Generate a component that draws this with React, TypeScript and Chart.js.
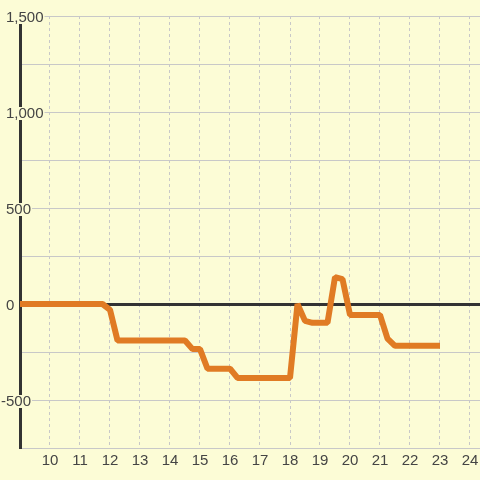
import React, { useEffect, useRef } from "react";
import { Chart, registerables } from "chart.js";

Chart.register(...registerables);

const hours = [9, 11.75, 12, 12.25, 14.5, 14.75, 15, 15.25, 16, 16.25, 18, 18.25, 18.5, 18.75, 19.25, 19.5, 19.75, 20, 21, 21.25, 21.5, 23];
const values = [0, 0, -30, -190, -190, -235, -235, -337, -337, -385, -385, 0, -88, -98, -98, 140, 130, -57, -57, -180, -218, -218];
const xTicks = [10, 11, 12, 13, 14, 15, 16, 17, 18, 19, 20, 21, 22, 23, 24];
const yTicks = [-750, -500, -250, 0, 250, 500, 750, 1000, 1250, 1500];

const BG = "#fcfcd6";
const FONT = "'Liberation Sans', Arial, sans-serif";

const bgPlugin = {
  id: "bgfill",
  beforeDraw(chart: any) {
    const { ctx, width, height } = chart;
    ctx.save();
    ctx.fillStyle = BG;
    ctx.fillRect(0, 0, width, height);
    ctx.restore();
    // fine placement of y labels: minus sign hangs left of the digits, text slightly lower
    const ys = chart.scales.y;
    if (ys && ys.getLabelItems) {
      const items = ys.getLabelItems(chart.chartArea);
      items.forEach((it: any) => {
        if (it._shifted) return;
        const lbl = Array.isArray(it.label) ? it.label[0] : it.label;
        if (typeof lbl === "string" && lbl.startsWith("-")) {
          ctx.save();
          ctx.font = it.font && it.font.string ? it.font.string : `15px ${FONT}`;
          const w = ctx.measureText("-").width;
          ctx.restore();
          it.options.translation[0] -= w;
        }
        it.options.translation[1] += 1.5;
        it._shifted = true;
      });
    }
  },
};

export default function App() {
  const ref = useRef<HTMLCanvasElement | null>(null);
  useEffect(() => {
    if (!ref.current) return;
    const chart = new Chart(ref.current, {
      type: "line",
      data: {
        datasets: [
          {
            data: hours.map((h, i) => ({ x: h, y: values[i] })),
            borderColor: "#e07b24",
            borderWidth: 6,
            borderJoinStyle: "bevel",
            pointRadius: 0,
            tension: 0,
            fill: false,
          },
        ],
      },
      options: {
        responsive: false,
        animation: false,
        events: [],
        layout: { padding: { left: 2, top: 16, right: 0, bottom: 0 } },
        plugins: { legend: { display: false }, tooltip: { enabled: false } },
        scales: {
          x: {
            type: "linear",
            min: 9,
            max: 9 + 460 / 30,
            afterBuildTicks: (s: any) => {
              s.ticks = xTicks.map((v) => ({ value: v }));
            },
            afterFit: (s: any) => {
              s.height = 32;
              s.paddingLeft = 0;
              s.paddingRight = 0;
            },
            border: { display: false, dash: [3, 3] },
            grid: { color: "#c8c8c8", lineWidth: 1, drawTicks: false },
            ticks: {
              padding: 4,
              maxRotation: 0,
              autoSkip: false,
              color: "#444",
              font: { family: FONT, size: 15, lineHeight: 1.2 },
            },
          },
          y: {
            type: "linear",
            min: -750,
            max: 1500,
            afterBuildTicks: (s: any) => {
              s.ticks = yTicks.map((v) => ({ value: v }));
            },
            afterFit: (s: any) => {
              s.width = 18;
              s.paddingTop = 0;
              s.paddingBottom = 0;
            },
            border: { display: true, color: "#333", width: 3 },
            grid: {
              drawTicks: false,
              color: (c: any) => (c.tick && c.tick.value === 0 ? "#333" : "#c8c8c8"),
              lineWidth: (c: any) => (c.tick && c.tick.value === 0 ? 3 : 1),
            },
            ticks: {
              mirror: true,
              crossAlign: "near",
              padding: -14,
              autoSkip: false,
              color: "#444",
              font: { family: FONT, size: 15, lineHeight: 1 },
              showLabelBackdrop: true,
              backdropColor: BG,
              backdropPadding: { top: -1, bottom: -1, left: 1, right: 1 },
              callback: (v: any) => (Number(v) % 500 === 0 ? Number(v).toLocaleString("en-US") : ""),
            } as any,
          },
        },
      } as any,
      plugins: [bgPlugin],
    });
    return () => chart.destroy();
  }, []);
  return (
    <div style={{ position: "fixed", left: 0, top: 0, width: 480, height: 480 }}>
      <canvas ref={ref} width={480} height={480} style={{ display: "block" }} />
    </div>
  );
}
